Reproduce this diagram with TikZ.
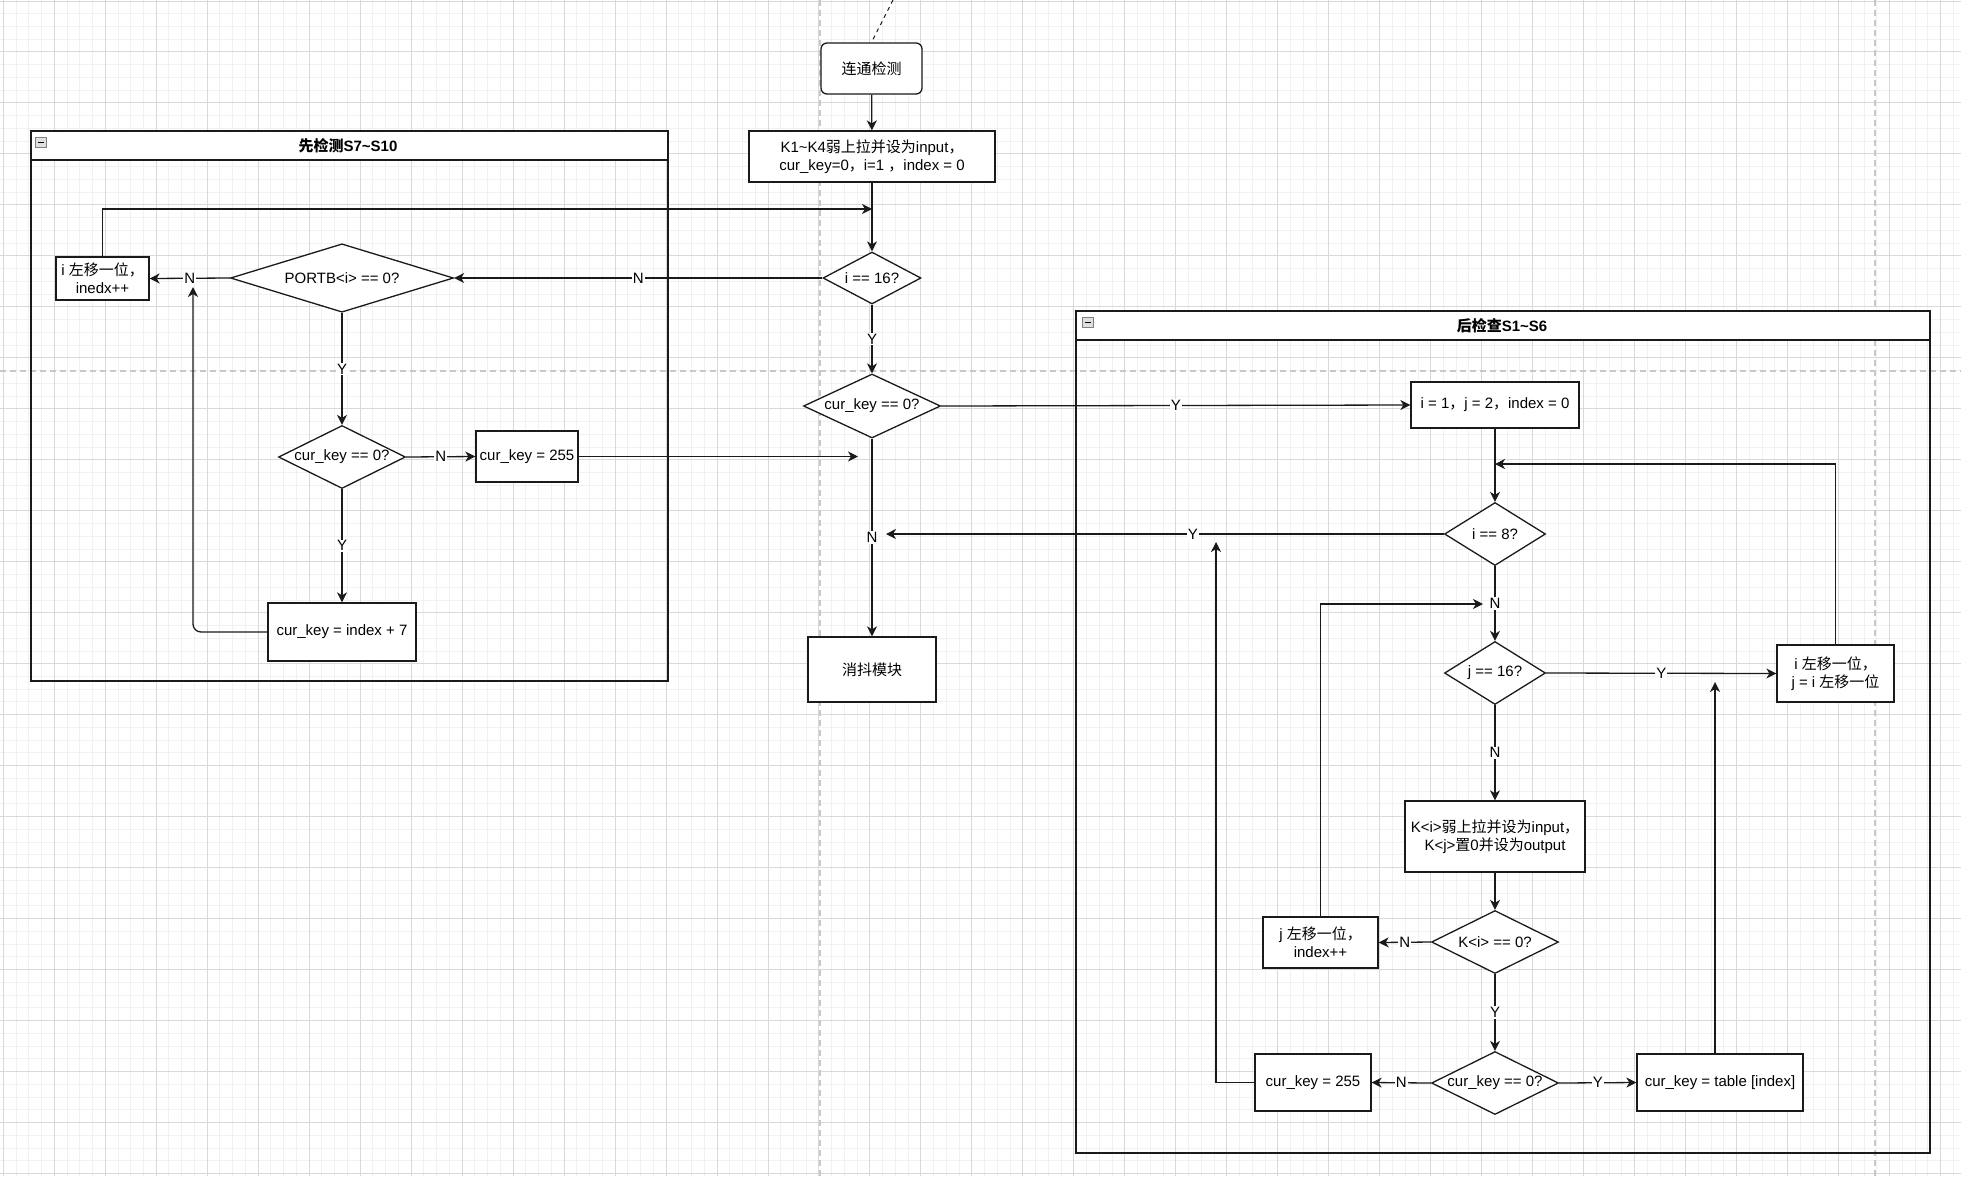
\documentclass[tikz,border=0pt]{standalone}
\usepackage{fontspec}
\setmainfont{Liberation Sans}
\newfontfamily\cjk{Noto Sans CJK SC}
\newcommand{\zh}[1]{{\cjk #1}}
\usetikzlibrary{arrows.meta,positioning,calc,shapes.geometric}
\definecolor{gridminor}{HTML}{F1F1F1}
\definecolor{gridmajor}{HTML}{D9D9D9}
\definecolor{pagebreak}{HTML}{C8C8C8}
\definecolor{flowline}{HTML}{1A1A1A}

\begin{document}
\begin{tikzpicture}[x=1pt,y=-1pt,font=\fontsize{15}{18}\selectfont,line width=1.3pt,
  >={Stealth[length=10pt,width=10pt,inset=3pt]},
  sz/.style 2 args={minimum width=#1pt,minimum height=#2pt},
  box/.style={draw=flowline,fill=white,inner sep=0pt,align=center},
  decision/.style={diamond,aspect=2,draw=flowline,fill=white,inner sep=0pt,align=center},
  flow/.style={draw=flowline,->},
  lbl/.style={fill=white,inner sep=1pt},
  group/.style={draw=flowline,line width=1.5pt}]
  \useasboundingbox (0,0) rectangle (1961,1176);
  \fill[white] (0,0) rectangle (1961,1176);

  % background grid and page breaks
  \begin{scope}
    \clip (0,0) rectangle (1961,1176);
    \foreach \k in {0,...,154}{\draw[gridminor,line width=1pt] ({3.3+12.745*\k},0) -- ++(0,1176);}
    \foreach \k in {0,...,92}{\draw[gridminor,line width=1pt] (0,{1+12.745*\k}) -- ++(1961,0);}
    \foreach \k in {0,...,38}{\draw[gridmajor,line width=1pt] ({3.3+50.98*\k},0) -- ++(0,1176);}
    \foreach \k in {0,...,23}{\draw[gridmajor,line width=1pt] (0,{1+50.98*\k}) -- ++(1961,0);}
    \draw[pagebreak,dash pattern=on 6pt off 4pt] (820,0) -- (820,1176);
    \draw[pagebreak,dash pattern=on 6pt off 4pt] (1875,0) -- (1875,1176);
    \draw[pagebreak,dash pattern=on 6pt off 4pt] (0,371) -- (1961,371);
  \end{scope}

  % containers
  \draw[group] (31,131) rectangle (668,681);
  \draw[group,fill=white] (31,131) rectangle (668,160);
  \node[font=\fontsize{15}{18}\selectfont\bfseries] (ltitle) at (348,146) {\zh{先检测}S7\textasciitilde S10};
  \draw[gray,line width=0.8pt,fill=gray!25] (35.5,137) rectangle (46.5,147.5);
  \draw[black,line width=1.3pt] (38,142.3) -- (44,142.3);

  \draw[group] (1076,311) rectangle (1930,1153);
  \draw[group,fill=white] (1076,311) rectangle (1930,340);
  \node[font=\fontsize{15}{18}\selectfont\bfseries] (rtitle) at (1502,326) {\zh{后检查}S1\textasciitilde S6};
  \draw[gray,line width=0.8pt,fill=gray!25] (1082,317) rectangle (1093,327.5);
  \draw[black,line width=1.3pt] (1084.5,322.3) -- (1090.5,322.3);

  % main column
  \node[box,rounded corners=6pt,sz={101}{51}] (start) at (871.5,68.5) {\zh{连通检测}};
  \node[box,sz={246}{51}] (init) at (872,156.5) {K1\textasciitilde K4\zh{弱上拉并设为}input\zh{，}\\cur\_key=0\zh{，}i=1 \zh{，}index = 0};
  \node[decision,sz={98}{52}] (d16) at (872,278) {i == 16?};
  \node[decision,sz={137}{64}] (dkey) at (872,406) {cur\_key == 0?};
  \node[box,sz={128}{65}] (xd) at (872,669.5) {\zh{消抖模块}};

  % left group
  \node[decision,sz={223}{63}] (portb) at (342,278) {PORTB<i> == 0?};
  \node[box,sz={93}{43}] (ishift) at (102.5,278.5) {i \zh{左移一位，}\\inedx++};
  \node[decision,sz={127}{63}] (lkey) at (342,457) {cur\_key == 0?};
  \node[box,sz={102}{51}] (l255) at (527,456.5) {cur\_key = 255};
  \node[box,sz={148}{58}] (l7) at (342,632) {cur\_key = index + 7};

  % right group
  \node[box,sz={168}{46}] (rinit) at (1495,405) {i = 1\zh{，}j = 2\zh{，}index = 0};
  \node[decision,sz={101}{63}] (d8) at (1495,534) {i == 8?};
  \node[decision,sz={101}{63}] (dj16) at (1495,673) {j == 16?};
  \node[box,sz={117}{57}] (shiftij) at (1835.5,673.5) {i \zh{左移一位，}\\j = i \zh{左移一位}};
  \node[box,sz={180}{71}] (kset) at (1495,836.5) {K<i>\zh{弱上拉并设为}input\zh{，}\\K<j>\zh{置}0\zh{并设为}output};
  \node[decision,sz={127}{63}] (dki) at (1495,942) {K<i> == 0?};
  \node[box,sz={115}{51}] (jshift) at (1320.5,942.5) {j \zh{左移一位，}\\index++};
  \node[decision,sz={127}{63}] (dkey2) at (1495,1083) {cur\_key == 0?};
  \node[box,sz={116}{57}] (r255) at (1313,1082.5) {cur\_key = 255};
  \node[box,sz={166}{57}] (rtab) at (1720,1082.5) {cur\_key = table [index]};

  % free ends
  \coordinate (entry) at (893,0);
  \coordinate (topin) at (872,209);
  \coordinate (lret) at (193,287);
  \coordinate (lkin) at (858,456.5);
  \coordinate (loopin) at (1495,464);
  \coordinate (nin) at (886,534);
  \coordinate (rret) at (1216,542);
  \coordinate (jin) at (1483,604);
  \coordinate (tabin) at (1715,682);

  % connectors
  \draw[flowline,line width=1pt,dash pattern=on 4pt off 4pt] (entry) -- (start.north);
  \draw[flow] (start) -- (init);
  \draw[flow] (init) -- (d16);
  \draw[flow] (ishift.north) |- (topin);
  \draw[flow] (d16.west) -- node[lbl]{N} (portb.east);
  \draw[flow] (portb.west) -- node[lbl]{N} (ishift.east);
  \draw[flow] (portb.south) -- node[lbl]{Y} (lkey.north);
  \draw[flow] (lkey.east) -- node[lbl]{N} (l255.west);
  \draw[flow] (lkey.south) -- node[lbl]{Y} (l7.north);
  \draw[flow,rounded corners=8pt] (l7.west) -| (lret);
  \draw[flow] (l255.east) -- (lkin);
  \draw[flow] (d16.south) -- node[lbl]{Y} (dkey.north);
  \draw[flow] (dkey.south) -- node[lbl]{N} (xd.north);
  \draw[flow] (dkey.east) -- node[lbl]{Y} (rinit.west);
  \draw[flow] (rinit.south) -- (d8.north);
  \draw[flow] (shiftij.north) |- (loopin);
  \draw[flow] (d8.west) -- node[lbl,pos=0.45]{Y} (nin);
  \draw[flow] (d8.south) -- node[lbl]{N} (dj16.north);
  \draw[flow] (jshift.north) |- (jin);
  \draw[flow] (dj16.east) -- node[lbl]{Y} (shiftij.west);
  \draw[flow] (dj16.south) -- node[lbl]{N} (kset.north);
  \draw[flow] (kset.south) -- (dki.north);
  \draw[flow] (dki.west) -- node[lbl]{N} (jshift.east);
  \draw[flow] (dki.south) -- node[lbl]{Y} (dkey2.north);
  \draw[flow] (dkey2.west) -- node[lbl]{N} (r255.east);
  \draw[flow] (dkey2.east) -- node[lbl]{Y} (rtab.west);
  \draw[flow] (r255.west) -| (rret);
  \draw[flow] (rtab.north -| tabin) -- (tabin);
\end{tikzpicture}
\end{document}
